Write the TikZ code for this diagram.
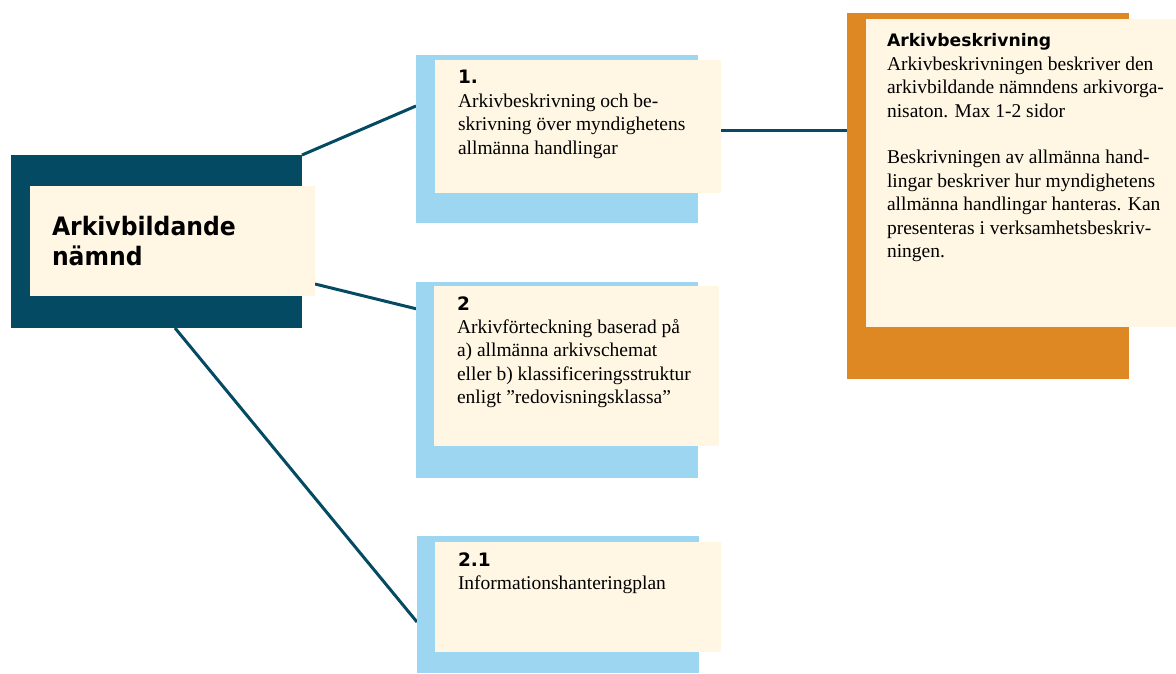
\documentclass[tikz,border=0pt]{standalone}
\usepackage{fontspec}
\setmainfont{Liberation Serif}
\newfontfamily\headfont{DejaVu Sans}[BoldFont={DejaVu Sans Bold}]
\usetikzlibrary{calc}

\definecolor{navy}{HTML}{034A62}
\definecolor{cream}{HTML}{FFF7E4}
\definecolor{sky}{HTML}{9DD6F0}
\definecolor{amber}{HTML}{DD8822}

\tikzset{
  panel/.style={anchor=north west, inner sep=0pt, outer sep=0pt, draw=none},
  link/.style={draw=navy, line width=3pt},
  bodytext/.style={anchor=base west, inner sep=0pt, outer sep=0pt},
}
\newcommand{\bodyfont}{\fontsize{19.5}{23.4}\selectfont}
\newcommand{\titlefont}{\headfont\bfseries\fontsize{17.2}{23.4}\selectfont}
\newcommand{\numfont}{\headfont\bfseries\fontsize{18.5}{23.4}\selectfont}
\newcommand{\textblock}[2]{\parbox[t]{#1}{\raggedright #2}}

\begin{document}
\begin{tikzpicture}[x=1pt, y=-1pt]
\useasboundingbox (0,0) rectangle (1176,674);

% frames and cards used as anchors for the connectors
\node[panel, minimum width=291pt, minimum height=173pt] (rootframe) at (11,155) {};
\node[panel, minimum width=282pt, minimum height=168pt] (oneframe) at (416,55) {};
\node[panel, minimum width=282pt, minimum height=196pt] (twoframe) at (416,282) {};
\node[panel, minimum width=282pt, minimum height=137pt] (threeframe) at (417,536) {};
\node[panel, minimum width=282pt, minimum height=366pt] (descframe) at (847,13) {};
\node[panel, minimum width=285pt, minimum height=110pt] (rootcard) at (30,186) {};
\node[panel, minimum width=286pt, minimum height=133pt] (onecard) at (435,60) {};

% connectors sit below the boxes
\draw[link] (rootframe.north east) -- ($(oneframe.north west)+(0,51)$);
\draw[link] ($(rootcard.north east)+(0,98)$) -- ($(twoframe.north west)+(1,27)$);
\draw[link] ($(rootframe.south west)+(164,0)$) -- ($(threeframe.north west)+(0,86)$);
\draw[link] ($(onecard.north east)+(0,71)$) -- ($(descframe.north west)+(0,118)$);

% root box
\fill[navy] (rootframe.north west) rectangle (rootframe.south east);
\fill[cream] (rootcard.north west) rectangle (rootcard.south east);
\node[bodytext] (roottext) at (52,235)
  {\textblock{250pt}{\headfont\bfseries\fontsize{23.5}{30}\selectfont
   \scalebox{1}[1.08]{Arkivbildande}\\\scalebox{1}[1.08]{nämnd}}};

% box 1
\fill[sky] (oneframe.north west) rectangle (oneframe.south east);
\fill[cream] (onecard.north west) rectangle (onecard.south east);
\node[bodytext] (onetext) at (458,84)
  {\textblock{260pt}{{\numfont 1.}\\\bodyfont
   Arkivbeskrivning och be-\\skrivning över myndighetens\\allmänna handlingar}};

% box 2
\fill[sky] (twoframe.north west) rectangle (twoframe.south east);
\node[panel, minimum width=285pt, minimum height=160pt, fill=cream] (twocard) at (434,286) {};
\node[bodytext] (twotext) at (457,310)
  {\textblock{260pt}{{\numfont 2}\\\bodyfont
   Arkivförteckning baserad på\\a) allmänna arkivschemat\\eller b) klassificeringsstruktur\\enligt ”redovisningsklassa”}};

% box 2.1
\fill[sky] (threeframe.north west) rectangle (threeframe.south east);
\node[panel, minimum width=286pt, minimum height=110pt, fill=cream] (threecard) at (435,542) {};
\node[bodytext] (threetext) at (458,566)
  {\textblock{260pt}{{\numfont 2.1}\\\bodyfont Informationshanteringplan}};

% description box
\fill[amber] (descframe.north west) rectangle (descframe.south east);
\node[panel, minimum width=310pt, minimum height=308pt, fill=cream] (desccard) at (866,19) {};
\node[bodytext] (desctext) at (887,47)
  {\textblock{285pt}{{\titlefont Arkivbeskrivning}\\\bodyfont
   Arkivbeskrivningen beskriver den\\arkivbildande nämndens arkivorga-\\nisaton. Max 1-2 sidor\\[23.4pt]
   Beskrivningen av allmänna hand-\\lingar beskriver hur myndighetens\\allmänna handlingar hanteras. Kan\\presenteras i verksamhetsbeskriv-\\ningen.}};
\end{tikzpicture}
\end{document}
